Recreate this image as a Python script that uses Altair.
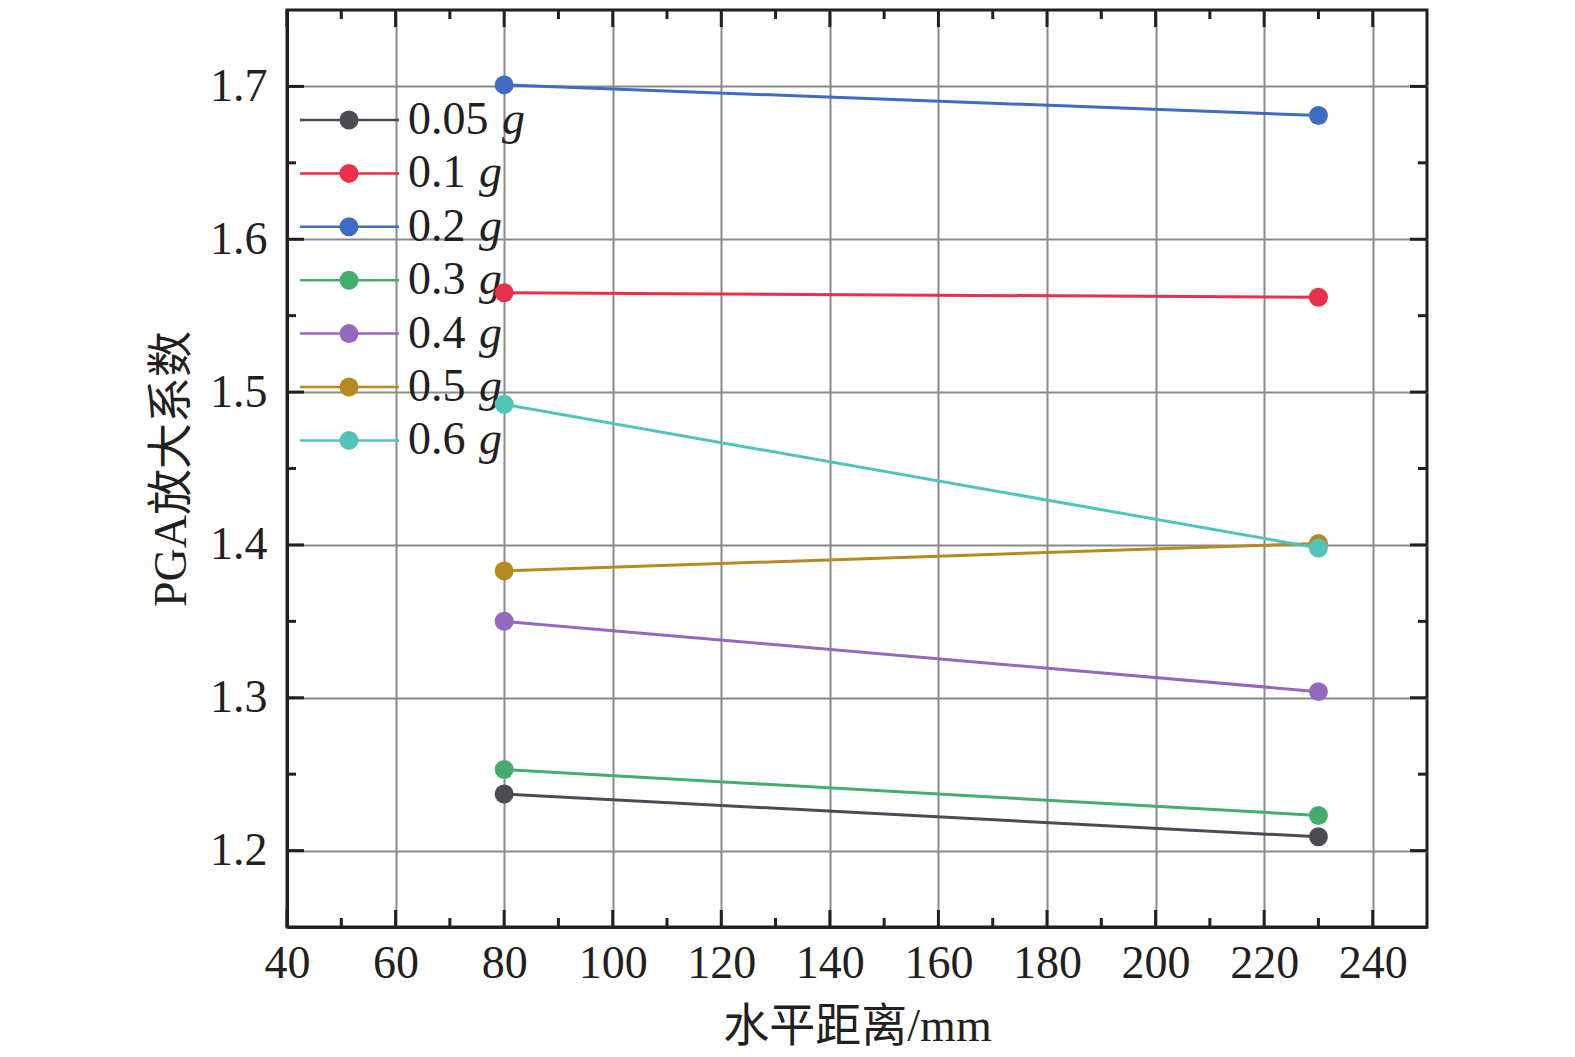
import altair as alt
import pandas as pd

# ---- data ----
series = ["0.05", "0.1", "0.2", "0.3", "0.4", "0.5", "0.6"]
distance = [80, 230]
v_005 = [1.237, 1.209]
v_01 = [1.565, 1.562]
v_02 = [1.701, 1.681]
v_03 = [1.253, 1.223]
v_04 = [1.350, 1.304]
v_05 = [1.383, 1.401]
v_06 = [1.492, 1.398]
colors = ["#4a4c51", "#e8304a", "#3e6bc3", "#45ad6b", "#9369bf", "#b78a1f", "#50c4b9"]

x_major = [40, 60, 80, 100, 120, 140, 160, 180, 200, 220, 240]
x_minor = [50, 70, 90, 110, 130, 150, 170, 190, 210, 230]
y_major = [1.2, 1.3, 1.4, 1.5, 1.6, 1.7]
y_minor = [1.25, 1.35, 1.45, 1.55, 1.65]

all_vals = [v_005, v_01, v_02, v_03, v_04, v_05, v_06]
rows = []
for s, vals in zip(series, all_vals):
    for d, v in zip(distance, vals):
        rows.append({"series": s, "x": d, "y": v})
df = pd.DataFrame(rows)
leg = pd.DataFrame({"series": series, "idx": list(range(len(series)))})

W, H = 1140, 917
FONT = "Liberation Serif, Noto Sans CJK SC"
INK = "#231f20"
PT = 360

xscale = alt.Scale(domain=[40, 250], nice=False, zero=False)
yscale = alt.Scale(domain=[1.15, 1.75], nice=False, zero=False)
xaxis = alt.Axis(values=x_major, title="水平距离/mm", ticks=False, labelPadding=14,
                 titlePadding=18, format="d", labelFlush=False)
yaxis = alt.Axis(values=y_major, title="PGA放大系数", ticks=False, labelPadding=20,
                 titlePadding=14, format=".1f", labelFlush=False)
cscale = alt.Scale(domain=series, range=colors)

def X(f):
    return alt.X(f, type="quantitative", scale=xscale, axis=xaxis)

def Y(f):
    return alt.Y(f, type="quantitative", scale=yscale, axis=yaxis)

lines = alt.Chart(df).mark_line(strokeWidth=3).encode(
    x=X("x"), y=Y("y"),
    color=alt.Color("series:N", scale=cscale, legend=None),
    detail="series:N",
)
points = alt.Chart(df).mark_point(filled=True, size=PT, opacity=1).encode(
    x=X("x"), y=Y("y"),
    color=alt.Color("series:N", scale=cscale, legend=None),
)

def xticks(vals, length):
    d = pd.DataFrame({"v": vals})
    b = alt.Chart(d).mark_rule(color=INK, strokeWidth=3).encode(
        x=X("v"), y=alt.value(H), y2=alt.value(H - length))
    t = alt.Chart(d).mark_rule(color=INK, strokeWidth=3).encode(
        x=X("v"), y=alt.value(0), y2=alt.value(length))
    return [b, t]

def yticks(vals, length):
    d = pd.DataFrame({"v": vals})
    l = alt.Chart(d).mark_rule(color=INK, strokeWidth=3).encode(
        y=Y("v"), x=alt.value(0), x2=alt.value(length))
    r = alt.Chart(d).mark_rule(color=INK, strokeWidth=3).encode(
        y=Y("v"), x=alt.value(W), x2=alt.value(W - length))
    return [l, r]

ticks = xticks(x_major, 17) + xticks(x_minor, 9) + yticks(y_major, 17) + yticks(y_minor, 9)

# custom legend (inside the plot, top-left)
lbase = alt.Chart(leg).transform_calculate(
    ly="110 + datum.idx * 53.4",
    gx="121 + 23 * length(datum.series) + 2",
)
ly = alt.Y("ly:Q", scale=None)
leg_line = lbase.mark_rule(strokeWidth=2.5).encode(
    x=alt.value(13), x2=alt.value(112), y=ly,
    color=alt.Color("series:N", scale=cscale, legend=None))
leg_pt = lbase.mark_point(filled=True, size=PT, opacity=1).encode(
    x=alt.value(62), y=ly,
    color=alt.Color("series:N", scale=cscale, legend=None))
leg_num = lbase.mark_text(align="left", baseline="middle", font=FONT, fontSize=46,
                          color=INK).encode(x=alt.value(121), y=ly, text="series:N")
leg_g = lbase.mark_text(align="left", baseline="middle", font=FONT, fontSize=46,
                        fontStyle="italic", color=INK, text="g").encode(
    x=alt.X("gx:Q", scale=None), y=ly)

chart = alt.layer(
    *ticks, leg_line, leg_pt, leg_num, leg_g, lines, points
).properties(
    width=W, height=H,
    autosize=alt.AutoSizeParams(type="none"),
    padding={"left": 279, "top": 2, "right": 120, "bottom": 128},
).configure_view(
    stroke=INK, strokeWidth=3
).configure_axis(
    labelFont=FONT, titleFont=FONT, labelFontSize=46, titleFontSize=46,
    labelColor=INK, titleColor=INK, titleFontWeight="normal",
    grid=True, gridColor="#8a8a8a", gridWidth=2,
    domain=True, domainColor=INK, domainWidth=3,
)

chart.save("out.html", embed_options={"renderer": "svg", "actions": False})
